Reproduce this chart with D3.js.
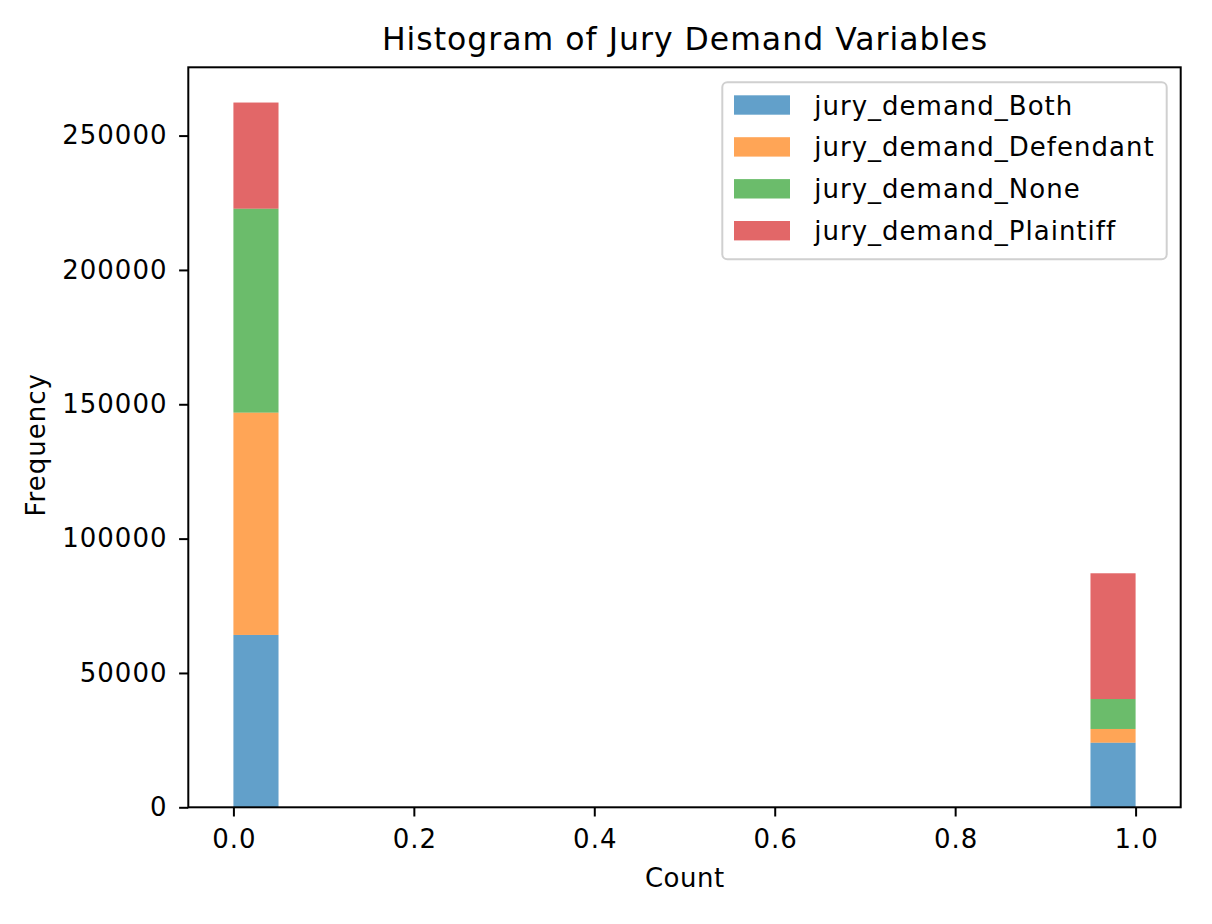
<!DOCTYPE html>
<html>
<head>
<meta charset="utf-8">
<script src="https://cdn.jsdelivr.net/npm/d3@7"></script>
<style>
  html, body { margin: 0; padding: 0; background: #fff; }
  svg { display: block; }
  text { font-family: "DejaVu Sans", sans-serif; fill: #000; }
</style>
</head>
<body>
<svg id="chart" width="1212" height="924"></svg>
<script>
// ---- data ----
const binCount = 20;
const binRange = [0, 1];
const seriesNames = ["jury_demand_Both", "jury_demand_Defendant", "jury_demand_None", "jury_demand_Plaintiff"];
const bothCounts      = [64150, 0,0,0,0,0,0,0,0,0,0,0,0,0,0,0,0,0,0, 24050];
const defendantCounts = [82750, 0,0,0,0,0,0,0,0,0,0,0,0,0,0,0,0,0,0, 5100];
const noneCounts      = [75900, 0,0,0,0,0,0,0,0,0,0,0,0,0,0,0,0,0,0, 11150];
const plaintiffCounts = [39500, 0,0,0,0,0,0,0,0,0,0,0,0,0,0,0,0,0,0, 46800];
const xTicks = [0.0, 0.2, 0.4, 0.6, 0.8, 1.0];
const yTicks = [0, 50000, 100000, 150000, 200000, 250000];
const colors = ["#1f77b4", "#ff7f0e", "#2ca02c", "#d62728"];
const titleText = "Histogram of Jury Demand Variables";
const xLabel = "Count";
const yLabel = "Frequency";

// ---- build table ----
const allSeries = [bothCounts, defendantCounts, noneCounts, plaintiffCounts];
const binWidth = (binRange[1] - binRange[0]) / binCount;
const rows = d3.range(binCount).map(i => {
  const r = { x0: binRange[0] + i * binWidth, x1: binRange[0] + (i + 1) * binWidth };
  seriesNames.forEach((n, k) => r[n] = allSeries[k][i]);
  return r;
});
const stacked = d3.stack().keys(seriesNames)(rows);
const maxTotal = d3.max(rows, r => d3.sum(seriesNames, n => r[n]));

// ---- layout ----
const svg = d3.select("#chart");
const pL = 188.3, pR = 1180.7, pT = 67.3, pB = 807.3;
const xPad = (binRange[1] - binRange[0]) * 0.05;
const x = d3.scaleLinear().domain([binRange[0] - xPad, binRange[1] + xPad]).range([pL, pR]);
const y = d3.scaleLinear().domain([0, maxTotal * 1.05]).range([pB, pT]);
const fontSize = 26;
const ls = 1; // letter spacing

// bars
svg.append("g").selectAll("g").data(stacked).join("g")
  .attr("fill", (d, i) => colors[i])
  .attr("fill-opacity", 0.7)
  .selectAll("rect").data(d => d.filter(s => s[1] - s[0] > 0)).join("rect")
  .attr("x", d => x(d.data.x0))
  .attr("width", d => x(d.data.x1) - x(d.data.x0))
  .attr("y", d => y(d[1]))
  .attr("height", d => y(d[0]) - y(d[1]));

// axes
const xAxis = svg.append("g").attr("transform", `translate(0,${pB})`)
  .call(d3.axisBottom(x).tickValues(xTicks).tickFormat(d3.format(".1f")).tickSize(9.2).tickPadding(13.3));
const yAxis = svg.append("g").attr("transform", `translate(${pL},0)`)
  .call(d3.axisLeft(y).tickValues(yTicks).tickFormat(d3.format("d")).tickSize(9.2).tickPadding(12.6));
[xAxis, yAxis].forEach(a => {
  a.select(".domain").remove();
  a.selectAll(".tick line").attr("stroke", "#000").attr("stroke-width", 2);
  a.selectAll(".tick text").attr("font-size", fontSize).attr("font-family", "DejaVu Sans")
    .attr("fill", "#000").attr("letter-spacing", ls);
});
xAxis.selectAll(".tick text").attr("dx", ls / 2);
yAxis.selectAll(".tick text").attr("dx", ls);

// frame
svg.append("rect").attr("x", pL).attr("y", pT)
  .attr("width", pR - pL).attr("height", pB - pT)
  .attr("fill", "none").attr("stroke", "#000").attr("stroke-width", 2);

// title & labels
svg.append("text").attr("x", (pL + pR) / 2).attr("y", 49.5).attr("dx", ls / 2)
  .attr("text-anchor", "middle").attr("font-size", 31.5).attr("letter-spacing", ls).text(titleText);
svg.append("text").attr("x", (pL + pR) / 2).attr("y", 887.3).attr("dx", 0.25)
  .attr("text-anchor", "middle").attr("font-size", fontSize).attr("letter-spacing", 0.5).text(xLabel);
svg.append("text").attr("transform", `translate(45,516.5) rotate(-90)`)
  .attr("text-anchor", "start").attr("font-size", fontSize).attr("letter-spacing", ls).text(yLabel);

// legend
const lg = svg.append("g");
const lgX = 722.3, lgY = 82.3, lgW = 444.4, lgH = 177;
lg.append("rect").attr("x", lgX).attr("y", lgY).attr("width", lgW).attr("height", lgH)
  .attr("rx", 5).attr("fill", "#fff").attr("fill-opacity", 0.8)
  .attr("stroke", "#d0d0d0").attr("stroke-width", 2);
seriesNames.forEach((n, i) => {
  const cy = 105 + i * 41.9;
  lg.append("rect").attr("x", 734).attr("y", cy - 9.7).attr("width", 56).attr("height", 19.4)
    .attr("fill", colors[i]).attr("fill-opacity", 0.7);
  lg.append("text").attr("x", 814.3).attr("y", cy + 9.5).attr("font-size", fontSize)
    .attr("letter-spacing", ls).text(n);
});
</script>
</body>
</html>
